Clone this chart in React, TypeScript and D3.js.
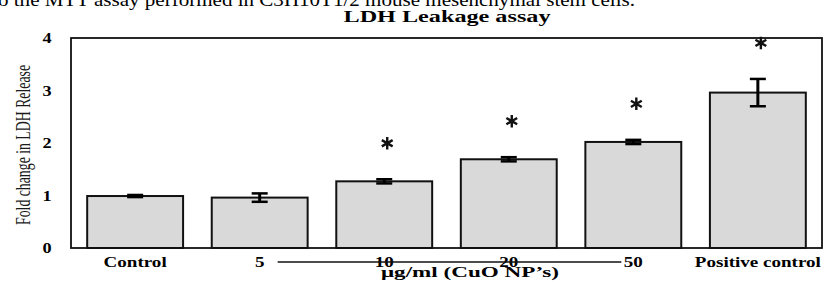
import { useEffect, useRef } from 'react';
import * as d3 from 'd3';

const categories = ['Control', '5', '10', '20', '50', 'Positive control'];
const foldChange = [0.99, 0.96, 1.27, 1.69, 2.02, 2.96];
const errors = [0.02, 0.08, 0.04, 0.04, 0.04, 0.26];
const significant = [false, false, true, true, true, true];
const yTicks = [0, 1, 2, 3, 4];

const captionText = 'o the MTT assay performed in C3H10T1/2 mouse mesenchymal stem cells.';
const titleText = 'LDH Leakage assay';
const yLabelText = 'Fold change in LDH Release';
const xLabelText = 'μg/ml (CuO NP’s)';

const serif = "'Liberation Serif', 'Times New Roman', Times, serif";

export default function App() {
  const svgRef = useRef<SVGSVGElement>(null);

  useEffect(() => {
    if (!svgRef.current) return;
    const width = 830;
    const height = 282;
    const margin = { top: 38, right: 8, bottom: 34, left: 71 };

    const svg = d3.select(svgRef.current);
    svg.selectAll('*').remove();

    const x = d3
      .scaleBand<string>()
      .domain(categories)
      .range([margin.left, width - margin.right])
      .paddingInner(0.23)
      .paddingOuter(0.13);

    const y = d3
      .scaleLinear()
      .domain([0, 4])
      .range([height - margin.bottom, margin.top]);

    // stretch text horizontally like the (distorted) source image
    const stretch = (sel: d3.Selection<SVGTextElement, any, any, any>, factor: number) => {
      sel.each(function () {
        const len = this.getComputedTextLength();
        d3.select(this).attr('textLength', len * factor).attr('lengthAdjust', 'spacingAndGlyphs');
      });
    };

    // cropped caption line from the page above
    svg.append('text')
      .attr('x', -2)
      .attr('y', 6)
      .attr('font-family', serif)
      .attr('font-size', 18)
      .attr('textLength', 637)
      .attr('lengthAdjust', 'spacingAndGlyphs')
      .text(captionText);

    svg.append('text')
      .attr('x', 447)
      .attr('y', 22)
      .attr('text-anchor', 'middle')
      .attr('font-family', serif)
      .attr('font-weight', 'bold')
      .attr('font-size', 16)
      .attr('textLength', 207)
      .attr('lengthAdjust', 'spacingAndGlyphs')
      .text(titleText);

    // bars
    svg.append('g')
      .selectAll('rect')
      .data(categories)
      .join('rect')
      .attr('x', (d) => x(d)!)
      .attr('y', (d, i) => y(foldChange[i]))
      .attr('width', x.bandwidth())
      .attr('height', (d, i) => y(0) - y(foldChange[i]))
      .attr('fill', '#d9d9d9')
      .attr('stroke', '#111')
      .attr('stroke-width', 2);

    // error bars
    const err = svg.append('g').attr('stroke', '#000');
    categories.forEach((c, i) => {
      const cx = x(c)! + x.bandwidth() / 2;
      const hi = y(foldChange[i] + errors[i]);
      const lo = y(foldChange[i] - errors[i]);
      err.append('line').attr('x1', cx).attr('x2', cx).attr('y1', hi).attr('y2', lo).attr('stroke-width', 3);
      [hi, lo].forEach((yy) => {
        err.append('line')
          .attr('x1', cx - 8)
          .attr('x2', cx + 8)
          .attr('y1', yy)
          .attr('y2', yy)
          .attr('stroke-width', 2.5);
      });
    });

    // significance asterisks
    const star = d3.symbol().type(d3.symbolAsterisk).size(110);
    categories.forEach((c, i) => {
      if (!significant[i]) return;
      const cx = x(c)! + x.bandwidth() / 2 + 3;
      const cy = y(foldChange[i] + errors[i]) - 36;
      svg.append('path')
        .attr('d', star()!)
        .attr('transform', `translate(${cx},${cy})`)
        .attr('fill', 'none')
        .attr('stroke', '#111')
        .attr('stroke-width', 2.4);
    });

    // frame
    svg.append('rect')
      .attr('x', margin.left)
      .attr('y', margin.top)
      .attr('width', width - margin.right - margin.left)
      .attr('height', height - margin.bottom - margin.top)
      .attr('fill', 'none')
      .attr('stroke', '#111')
      .attr('stroke-width', 1.8);

    // y tick labels
    const yLabels = svg.append('g')
      .selectAll('text')
      .data(yTicks)
      .join('text')
      .attr('x', 47)
      .attr('y', (d) => y(d) + 5)
      .attr('text-anchor', 'middle')
      .attr('font-family', serif)
      .attr('font-weight', 'bold')
      .attr('font-size', 14)
      .text((d) => d);
    stretch(yLabels as any, 1.3);

    // x tick labels
    const xLabels = svg.append('g')
      .selectAll('text')
      .data(categories)
      .join('text')
      .attr('x', (d) => x(d)! + x.bandwidth() / 2)
      .attr('y', 267)
      .attr('text-anchor', 'middle')
      .attr('font-family', serif)
      .attr('font-weight', 'bold')
      .attr('font-size', 14)
      .text((d) => d);
    stretch(xLabels as any, 1.36);

    // bracket line over the concentrations
    svg.append('line')
      .attr('x1', x('5')! + x.bandwidth() / 2 + 18)
      .attr('x2', x('50')! + x.bandwidth() / 2 - 12)
      .attr('y1', 262)
      .attr('y2', 262)
      .attr('stroke', '#111')
      .attr('stroke-width', 1.5);

    svg.append('text')
      .attr('x', 470)
      .attr('y', 277)
      .attr('text-anchor', 'middle')
      .attr('font-family', serif)
      .attr('font-weight', 'bold')
      .attr('font-size', 15)
      .attr('textLength', 178)
      .attr('lengthAdjust', 'spacingAndGlyphs')
      .text(xLabelText);

    svg.append('text')
      .attr('transform', `translate(30,${(y(0) + y(4)) / 2 + 2}) rotate(-90)`)
      .attr('text-anchor', 'middle')
      .attr('font-family', serif)
      .attr('font-size', 22)
      .attr('fill', '#1a1a1a')
      .attr('textLength', 160)
      .attr('lengthAdjust', 'spacingAndGlyphs')
      .text(yLabelText);
  }, []);

  return (
    <svg
      ref={svgRef}
      width={830}
      height={282}
      style={{ position: 'absolute', left: 0, top: 0, background: '#fff' }}
    />
  );
}
